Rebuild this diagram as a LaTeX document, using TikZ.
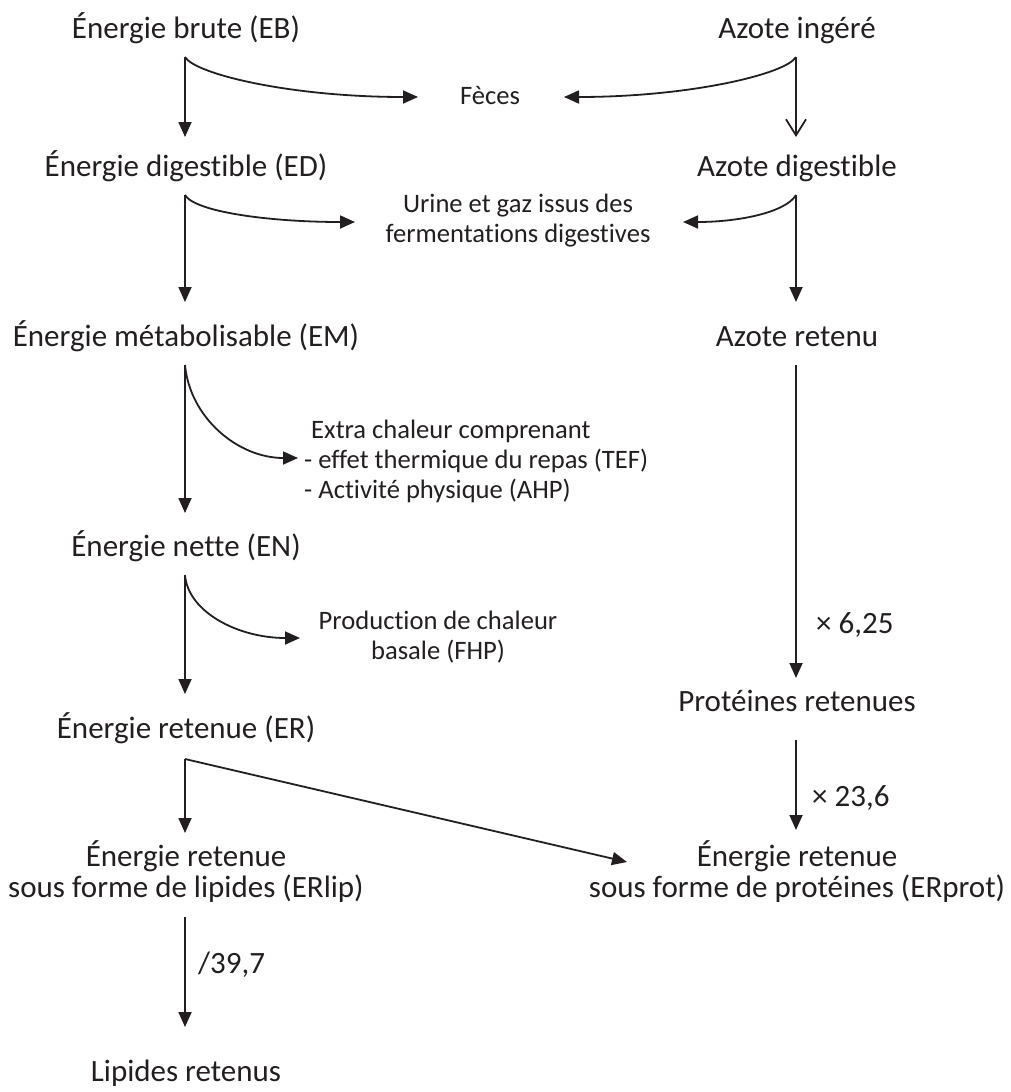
\documentclass[tikz,border=0pt]{standalone}
\usepackage{fontspec}
\setmainfont{Carlito}[Ligatures=NoCommon]
\usetikzlibrary{arrows.meta}
\definecolor{ink}{HTML}{231F20}
\begin{document}
\begin{tikzpicture}[x=1pt,y=-1pt,
  big/.style={anchor=base,inner sep=0pt,text=ink,font=\fontsize{31}{30}\selectfont},
  small/.style={anchor=base,inner sep=0pt,text=ink,font=\fontsize{26.6}{30}\selectfont},
  smallleft/.style={small,anchor=base west},
  flow/.style={draw=ink,line width=1.8pt,-{Triangle[length=15pt,width=13pt]}},
  openflow/.style={draw=ink,line width=1.8pt,-{Straight Barb[length=16pt,width=20pt]}}
]
\path[use as bounding box] (0,0) rectangle (1011,1092);

% ---- text nodes ----
\node[big] (eb) at (186,38) {Énergie brute (EB)};
\node[big] (ai) at (797,38) {Azote ingéré};
\node[small] (fec) at (490,104) {Fèces};
\node[big] (ed) at (186,176) {Énergie digestible (ED)};
\node[big] (ad) at (797,176) {Azote digestible};
\node[small] (ur1) at (518,212) {Urine et gaz issus des};
\node[small] (ur2) at (518,242) {fermentations digestives};
\node[big] (em) at (186,346) {Énergie métabolisable (EM)};
\node[big] (ar) at (797,346) {Azote retenu};
\node[smallleft] (ex1) at (311,438) {Extra chaleur comprenant};
\node[smallleft] (ex2) at (304,468) {- effet thermique du repas (TEF)};
\node[smallleft] (ex3) at (304,498) {- Activité physique (AHP)};
\node[big] (en) at (186,556) {Énergie nette (EN)};
\node[small] (pc1) at (438,629) {Production de chaleur};
\node[small] (pc2) at (438,659) {basale (FHP)};
\node[big] (er) at (186,738) {Énergie retenue (ER)};
\node[big] (pr) at (797,711) {Protéines retenues};
\node[big] (el1) at (186,866) {Énergie retenue};
\node[big] (el2) at (186,897) {sous forme de lipides (ERlip)};
\node[big] (ep1) at (797,866) {Énergie retenue};
\node[big] (ep2) at (797,897) {sous forme de protéines (ERprot)};
\node[big] (ll) at (186,1081) {Lipides retenus};
\node[big,anchor=base west] (k1) at (816,633) {× 6,25};
\node[big,anchor=base west] (k2) at (812,806) {× 23,6};
\node[big,anchor=base west] (k3) at (198,973) {/39,7};

% ---- connector end points ----
\coordinate (ebC) at (185,57);
\coordinate (ebT) at (185,137);
\coordinate (fecW) at (418,97);
\coordinate (aiC) at (796,57);
\coordinate (aiT) at (796,137);
\coordinate (fecE) at (564,97);
\coordinate (edC) at (185,195);
\coordinate (edT) at (185,302);
\coordinate (urW) at (355,222);
\coordinate (adC) at (796,195);
\coordinate (adT) at (796,302);
\coordinate (urE) at (683,222);
\coordinate (emC) at (185,365);
\coordinate (emT) at (185,513);
\coordinate (exW) at (298,458);
\coordinate (arC) at (796,365);
\coordinate (arT) at (796,678);
\coordinate (enC) at (185,575);
\coordinate (enT) at (185,694);
\coordinate (pcW) at (300,638);
\coordinate (erC) at (185,759);
\coordinate (erT) at (185,833);
\coordinate (epW) at (627,862);
\coordinate (prC) at (796,740);
\coordinate (prT) at (796,830);
\coordinate (elC) at (185,917);
\coordinate (elT) at (185,1027);

% ---- connectors ----
\draw[flow] (ebC) -- (ebT);
\draw[flow] (ebC) .. controls (195,74) and (290,97) .. (fecW);
\draw[openflow] (aiC) -- (aiT);
\draw[flow] (aiC) .. controls (786,74) and (690,97) .. (fecE);
\draw[flow] (edC) -- (edT);
\draw[flow] (edC) .. controls (195,212) and (270,222) .. (urW);
\draw[flow] (adC) -- (adT);
\draw[flow] (adC) .. controls (786,212) and (740,222) .. (urE);
\draw[flow] (emC) -- (emT);
\draw[flow] (emC) .. controls (190,418) and (238,458) .. (exW);
\draw[flow] (arC) -- (arT);
\draw[flow] (enC) -- (enT);
\draw[flow] (enC) .. controls (188,612) and (238,638) .. (pcW);
\draw[flow] (erC) -- (erT);
\draw[flow] (erC) -- (epW);
\draw[flow] (prC) -- (prT);
\draw[flow] (elC) -- (elT);
\end{tikzpicture}
\end{document}
